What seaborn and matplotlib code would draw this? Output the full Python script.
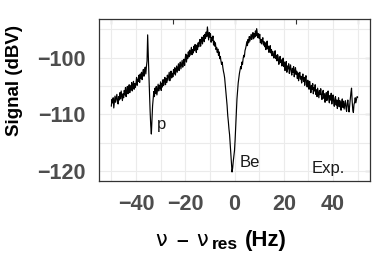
import numpy as np
import matplotlib
matplotlib.use("Agg")
import matplotlib.pyplot as plt
from matplotlib.ticker import MultipleLocator, FixedLocator
import seaborn as sns

# ---- data ----
freq_start = -50.0   # Hz
freq_step = 0.25     # Hz
signal = [
    # -50 .. -45.25
    -108.6, -107.4, -108.0, -107.1, -108.9, -107.8, -106.8, -107.9, -107.2, -106.5,
    -107.6, -108.2, -106.9, -107.5, -106.2, -107.3, -105.9, -106.8, -107.6, -106.4,
    # -45 .. -40.25
    -107.1, -105.8, -106.6, -105.3, -106.9, -105.9, -105.1, -106.4, -105.5, -104.8,
    -106.2, -105.0, -105.7, -104.4, -105.9, -104.9, -104.2, -105.6, -104.6, -105.3,
    # -40 .. -35.25
    -104.6, -103.5, -104.9, -103.8, -104.2, -103.1, -104.4, -102.9, -103.7, -102.6,
    -103.9, -102.8, -102.1, -103.3, -102.4, -101.7, -102.9, -101.6, -100.6, -96.0,
    # -35 .. -30.25
    -99.8, -103.0, -106.5, -109.5, -112.0, -113.5, -111.0, -108.5, -107.2, -106.0,
    -106.9, -105.4, -106.3, -105.1, -106.6, -105.6, -104.7, -105.9, -104.9, -105.5,
    # -30 .. -25.25
    -104.3, -105.8, -104.6, -105.2, -103.9, -104.9, -104.1, -103.5, -104.8, -103.7,
    -104.4, -103.1, -104.0, -103.3, -102.6, -104.1, -103.0, -102.4, -103.6, -102.8,
    # -25 .. -20.25
    -103.4, -102.1, -102.9, -101.8, -103.1, -102.3, -101.5, -102.6, -101.9, -101.1,
    -102.3, -101.4, -100.8, -102.0, -101.2, -100.5, -101.7, -100.9, -100.3, -101.4,
    # -20 .. -15.25
    -100.1, -99.4, -100.8, -99.6, -100.2, -99.0, -99.9, -98.7, -99.6, -98.9,
    -98.2, -99.5, -98.6, -99.2, -98.0, -98.8, -97.7, -98.5, -99.1, -97.8,
    # -15 .. -10.25
    -98.6, -97.4, -98.1, -97.2, -96.8, -98.0, -97.0, -96.4, -97.6, -96.7,
    -96.1, -97.2, -95.9, -96.6, -95.5, -96.3, -94.6, -95.8, -96.9, -95.6,
    # -10 .. -5.25
    -96.4, -95.8, -97.3, -96.5, -97.0, -96.2, -97.8, -97.1, -98.0, -97.4,
    -98.6, -98.2, -99.1, -98.5, -99.6, -99.0, -100.2, -99.8, -100.6, -101.2,
    # -5 .. -0.25
    -100.8, -101.7, -102.4, -102.9, -103.6, -104.8, -106.2, -107.4, -108.5, -110.2,
    -111.3, -112.6, -113.6, -115.2, -116.9, -118.6, -120.2, -119.5, -118.3, -117.4,
    # 0 .. 4.75
    -116.4, -114.5, -112.2, -109.6, -107.3, -105.8, -104.5, -103.6, -102.8, -102.2,
    -101.6, -102.0, -100.8, -101.2, -100.2, -99.6, -99.9, -98.8, -98.4, -97.9,
    # 5 .. 9.75
    -97.2, -97.9, -96.8, -97.4, -96.3, -97.1, -96.5, -95.9, -96.8, -96.1,
    -95.6, -96.7, -95.8, -96.4, -95.3, -96.2, -94.9, -95.7, -96.5, -95.8,
    # 10 .. 14.75
    -96.6, -95.9, -97.4, -96.8, -97.6, -96.9, -96.5, -97.8, -97.2, -98.1,
    -97.4, -98.6, -97.7, -97.1, -98.5, -98.0, -99.1, -98.3, -97.9, -99.2,
    # 15 .. 19.75
    -98.6, -99.7, -98.9, -99.4, -100.1, -99.2, -98.8, -100.2, -99.6, -100.6,
    -99.5, -100.0, -101.2, -100.3, -99.8, -100.9, -100.4, -101.5, -100.7, -100.1,
    # 20 .. 24.75
    -101.6, -100.8, -102.3, -101.2, -100.7, -102.6, -101.5, -102.0, -101.1, -102.8,
    -101.8, -101.3, -102.5, -103.1, -101.9, -102.6, -101.6, -103.4, -102.3, -101.8,
    # 25 .. 29.75
    -103.0, -102.4, -103.7, -102.7, -104.1, -103.2, -102.6, -103.8, -103.3, -104.5,
    -103.6, -102.9, -104.2, -103.5, -104.9, -103.8, -103.2, -104.6, -105.2, -104.0,
    # 30 .. 34.75
    -104.5, -105.6, -104.2, -105.1, -106.2, -104.9, -105.6, -104.6, -106.4, -105.3,
    -105.9, -104.8, -106.5, -105.7, -106.9, -105.4, -106.2, -107.1, -105.8, -106.5,
    # 35 .. 39.75
    -105.5, -106.7, -107.4, -106.1, -105.8, -107.2, -106.4, -107.9, -106.8, -106.2,
    -107.6, -106.6, -105.9, -107.3, -108.0, -106.7, -107.5, -106.3, -108.2, -107.1,
    # 40 .. 44.75
    -106.6, -107.8, -108.6, -107.2, -106.9, -108.4, -107.5, -109.0, -107.8, -107.1,
    -108.7, -107.6, -108.2, -109.3, -107.9, -107.3, -108.8, -107.7, -109.1, -108.3,
    # 45 .. 49.75
    -107.6, -108.9, -109.5, -108.1, -107.5, -108.7, -109.6, -108.4, -107.3, -106.2,
    -105.4, -107.6, -109.2, -109.7, -108.3, -107.9, -107.1, -108.0, -107.4, -106.9,
    # 50
    -107.0,
]
freq = freq_start + freq_step * np.arange(len(signal))

x_ticks = [-40, -20, 0, 20, 40]
x_top_ticks = [-50, -25, 0, 25, 50]
y_ticks = [-120, -110, -100]

labels = ["p", "Be", "Exp."]
label_x = [-31.6, 2.0, 31.2]
label_y = [-112.6, -119.3, -120.3]

# ---- style ----
sns.set_theme(style="white")
plt.rcParams["font.family"] = ["Liberation Sans", "DejaVu Sans"]

W, H = 390, 260
fig = plt.figure(figsize=(W / 100, H / 100), dpi=100)
ax = fig.add_axes([99 / W, 1 - 180.5 / H, (370 - 99) / W, (180.5 - 19) / H])
ax.set_facecolor("white")

sns.lineplot(x=freq, y=signal, color="black", linewidth=0.85, ax=ax, zorder=3)

ax.set_xlim(-55, 55)
ax.set_ylim(-121.7, -93.2)

ax.xaxis.set_major_locator(FixedLocator(x_ticks))
ax.xaxis.set_minor_locator(MultipleLocator(10))
ax.yaxis.set_major_locator(FixedLocator(y_ticks))
ax.yaxis.set_minor_locator(MultipleLocator(5))

ax.grid(True, which="both", color="#EBEBEB", linewidth=0.8, zorder=0)
ax.set_axisbelow(True)

for s in ax.spines.values():
    s.set_color("#333333")
    s.set_linewidth(0.9)
    s.set_visible(True)

ax.tick_params(axis="both", which="major", direction="out", length=3.5, width=0.8,
               color="#333333", labelsize=15.5, labelcolor="#4D4D4D", pad=6)
ax.tick_params(axis="both", which="minor", length=0)
for lab in ax.get_xticklabels() + ax.get_yticklabels():
    lab.set_fontweight("bold")

secx = ax.secondary_xaxis("top")
secx.set_xticks(x_top_ticks)
secx.tick_params(direction="in", length=3.5, width=0.8, color="#333333", labeltop=False)
secx.spines["top"].set_visible(False)
secy = ax.secondary_yaxis("right")
secy.set_yticks(y_ticks)
secy.tick_params(direction="in", length=3.5, width=0.8, color="#333333", labelright=False)
secy.spines["right"].set_visible(False)

ax.set_xlabel("")
ax.set_ylabel("")

for t, xx, yy in zip(labels, label_x, label_y):
    ax.text(xx, yy, t, fontsize=12, color="#1A1A1A", ha="left", va="baseline", zorder=4)

# y-axis title
fig.text(15 / W, 1 - 80 / H, "Signal (dBV)", rotation=90, fontsize=13.5,
         fontweight="bold", ha="center", va="center", color="black")

# x-axis title, composed piece by piece: ν – ν_res (Hz)
def px(x, y):
    return x / W, 1 - y / H

fig.text(*px(155, 245.5), "ν", fontsize=15, family="DejaVu Sans",
         ha="left", va="baseline", color="black")
fig.text(*px(176, 246), "–", fontsize=15, fontweight="bold",
         ha="left", va="baseline", color="black")
fig.text(*px(196, 245.5), "ν", fontsize=15, family="DejaVu Sans",
         ha="left", va="baseline", color="black")
fig.text(*px(212, 249), "res", fontsize=12.5, fontweight="bold",
         ha="left", va="baseline", color="black")
fig.text(*px(245, 246), "(Hz)", fontsize=16, fontweight="bold",
         ha="left", va="baseline", color="black")

fig.savefig("out.png", dpi=100)
